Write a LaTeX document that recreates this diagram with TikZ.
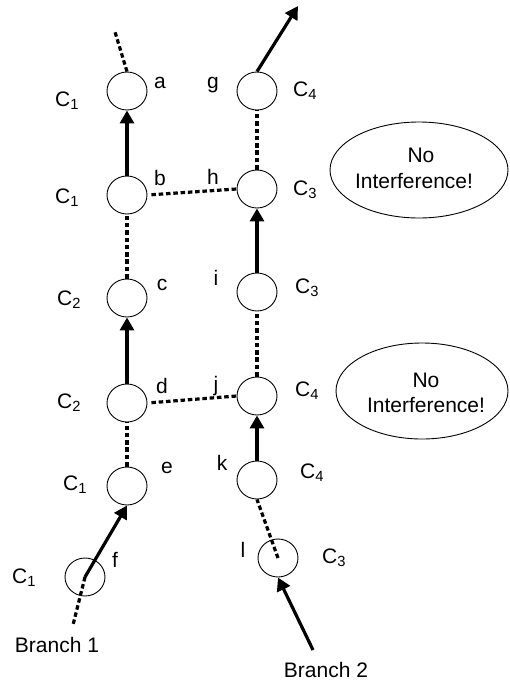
\documentclass[tikz,border=0pt]{standalone}
\usepackage{fontspec}
\setmainfont{Liberation Sans}
\usetikzlibrary{arrows.meta,shapes.geometric}
\tikzset{
  st/.style={draw, ellipse, line width=0.9pt, minimum width=40pt, minimum height=38pt, inner sep=0pt},
  bubble/.style={draw, ellipse, line width=0.9pt, align=center, inner sep=0pt},
  lbl/.style={anchor=base, inner sep=0pt},
  clbl/.style={anchor=base west, inner sep=0pt},
  dsh/.style={line width=3.2pt, dash pattern=on 4.5pt off 2.8pt},
  arr/.style={line width=3.2pt, -{Triangle[length=13pt,width=14pt]}},
}
\begin{document}
\begin{tikzpicture}[x=1pt,y=-1pt,font=\fontsize{21}{26}\selectfont]
\useasboundingbox (0,0) rectangle (509,683);
% left branch states
\node[st] (a) at (127,91) {};
\node[st] (b) at (127,195) {};
\node[st] (c) at (127,298) {};
\node[st] (d) at (127,403) {};
\node[st] (e) at (127,486) {};
\node[st] (f) at (85,577) {};
% right branch states
\node[st] (g) at (257,91) {};
\node[st] (h) at (257,189) {};
\node[st] (i) at (257,292) {};
\node[st] (j) at (257,396) {};
\node[st] (k) at (257,480) {};
\node[st] (l) at (278,558) {};
% bubbles
\node[bubble, minimum width=178pt, minimum height=96pt] (n1) at (419,170) {};
\node[lbl] (n1a) at (421,162) {No};
\node[lbl] (n1b) at (414,188) {Interference!};
\node[bubble, minimum width=172pt, minimum height=96pt] (n2) at (422,391) {};
\node[lbl] (n2a) at (426,387) {No};
\node[lbl] (n2b) at (426,412) {Interference!};
% letters
\node[lbl] (la) at (160,88) {a};
\node[lbl] (lb) at (160,185) {b};
\node[lbl] (lc) at (162,290) {c};
\node[lbl] (ld) at (162,393) {d};
\node[lbl] (le) at (167,473) {e};
\node[lbl] (lf) at (115,567) {f};
\node[lbl] (lg) at (213,88) {g};
\node[lbl] (lh) at (213,184) {h};
\node[lbl] (li) at (216,285) {i};
\node[lbl] (lj) at (216,391) {j};
\node[lbl] (lk) at (222,470) {k};
\node[lbl] (ll) at (243,557) {l};
% colour labels
\node[clbl] (ca) at (55,106) {C\textsubscript{1}};
\node[clbl] (cb) at (55,203) {C\textsubscript{1}};
\node[clbl] (cc) at (57,305) {C\textsubscript{2}};
\node[clbl] (cd) at (57,408) {C\textsubscript{2}};
\node[clbl] (ce) at (63,490) {C\textsubscript{1}};
\node[clbl] (cf) at (12,583) {C\textsubscript{1}};
\node[clbl] (cg) at (293,96) {C\textsubscript{4}};
\node[clbl] (ch) at (293,195) {C\textsubscript{3}};
\node[clbl] (ci) at (295,293) {C\textsubscript{3}};
\node[clbl] (cj) at (295,396) {C\textsubscript{4}};
\node[clbl] (ck) at (300,478) {C\textsubscript{4}};
\node[clbl] (cl) at (322,563) {C\textsubscript{3}};
% branch labels
\node[lbl] (br1) at (57,652) {Branch 1};
\node[lbl] (br2) at (326,677) {Branch 2};
% free ends
\coordinate (atop) at (115,32);
\coordinate (gtop) at (298,6);
\coordinate (ftail) at (73,625);
\coordinate (lstart) at (313,650);
% connectors left
\draw[dsh] (a.north) -- (atop);
\draw[arr] (b.north) -- (a.south);
\draw[dsh] (c.north) -- (b.south);
\draw[arr] (d.north) -- (c.south);
\draw[dsh] (e.north) -- (d.south);
\draw[arr] (f.center) -- (e.south);
\draw[dsh] (f.center) -- (ftail);
% connectors right
\draw[arr] (g.north) -- (gtop);
\draw[dsh] (h.north) -- (g.south);
\draw[arr] (i.north) -- (h.south);
\draw[dsh] (j.north) -- (i.south);
\draw[arr] (k.north) -- (j.south);
\draw[dsh] (l.center) -- (k.south);
\draw[arr] (lstart) -- (l.south);
% cross links
\draw[dsh, shorten <=4pt] (b.east) -- (h.west);
\draw[dsh, shorten <=4pt] (d.east) -- (j.west);
\end{tikzpicture}
\end{document}
